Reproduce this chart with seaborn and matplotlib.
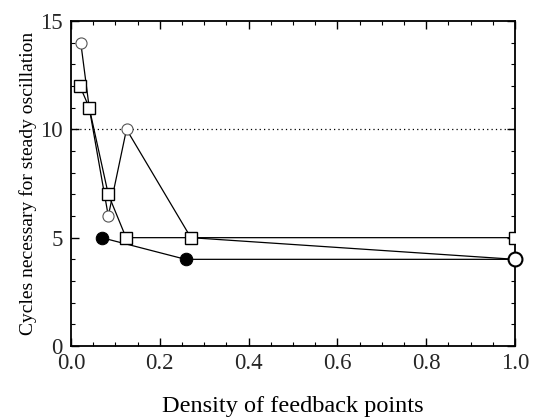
import matplotlib
matplotlib.use("Agg")
import matplotlib.pyplot as plt
import seaborn as sns
import pandas as pd
from matplotlib.ticker import MultipleLocator

sns.set_theme(style="ticks")
plt.rcParams['font.family'] = ['Liberation Serif', 'DejaVu Serif']

# Data
open_circle_x = [0.022, 0.041, 0.084, 0.125, 0.27, 1.0]
open_circle_y = [14, 11, 6, 10, 5, 4]
square_x = [0.02, 0.041, 0.084, 0.124, 0.27, 1.0]
square_y = [12, 11, 7, 5, 5, 5]
filled_x = [0.069, 0.258, 1.0]
filled_y = [5, 4, 4]
ref_level = 10
x_ticks = [0.0, 0.2, 0.4, 0.6, 0.8, 1.0]
y_ticks = [0, 5, 10, 15]

fig = plt.figure(figsize=(5.38, 4.19), dpi=100)
ax = fig.add_axes([71/538, 1 - 346/419, 444/538, 325/419])

ax.axhline(ref_level, color='black', lw=0.9, ls=(0, (1, 2.5)), zorder=1)

df_f = pd.DataFrame({'x': filled_x, 'y': filled_y})
sns.lineplot(data=df_f, x='x', y='y', ax=ax, color='black', lw=0.9,
             marker='o', markersize=9, markerfacecolor='black',
             markeredgecolor='black', zorder=2, sort=False)

df_c = pd.DataFrame({'x': open_circle_x, 'y': open_circle_y})
sns.lineplot(data=df_c, x='x', y='y', ax=ax, color='black', lw=0.9,
             marker='o', markersize=8, markerfacecolor='white',
             markeredgecolor='#555555', markeredgewidth=0.8, zorder=3, sort=False)

df_s = pd.DataFrame({'x': square_x, 'y': square_y})
sns.lineplot(data=df_s, x='x', y='y', ax=ax, color='black', lw=0.9,
             marker='s', markersize=8.5, markerfacecolor='white',
             markeredgecolor='black', markeredgewidth=1.0, zorder=4, sort=False)

# emphasised last point of the open-circle series
ax.plot(open_circle_x[-1:], open_circle_y[-1:], 'o', ms=10, mfc='white',
        mec='black', mew=1.5, zorder=5, clip_on=False)

ax.set_xlim(0, 1.0)
ax.set_ylim(0, 15)
ax.set_xticks(x_ticks)
ax.set_yticks(y_ticks)
ax.set_xticklabels([f"{v:.1f}" for v in x_ticks])
ax.set_yticklabels([str(v) for v in y_ticks])
ax.xaxis.set_minor_locator(MultipleLocator(0.05))
ax.yaxis.set_minor_locator(MultipleLocator(1))
ax.tick_params(which='both', direction='in', top=True, right=True, color='black')
ax.tick_params(which='major', length=6, width=1.0, labelsize=16.5)
ax.tick_params(axis='x', which='major', pad=5)
ax.tick_params(axis='y', which='major', pad=6)
ax.tick_params(which='minor', length=3, width=0.8)
for s in ax.spines.values():
    s.set_color('black')
    s.set_linewidth(1.3)

ax.set_xlabel('Density of feedback points', fontsize=17.5, labelpad=16, color='black')
ax.set_ylabel('Cycles necessary for steady oscillation', fontsize=14, labelpad=2, color='black')

fig.savefig('out.png', dpi=100, facecolor='white')
